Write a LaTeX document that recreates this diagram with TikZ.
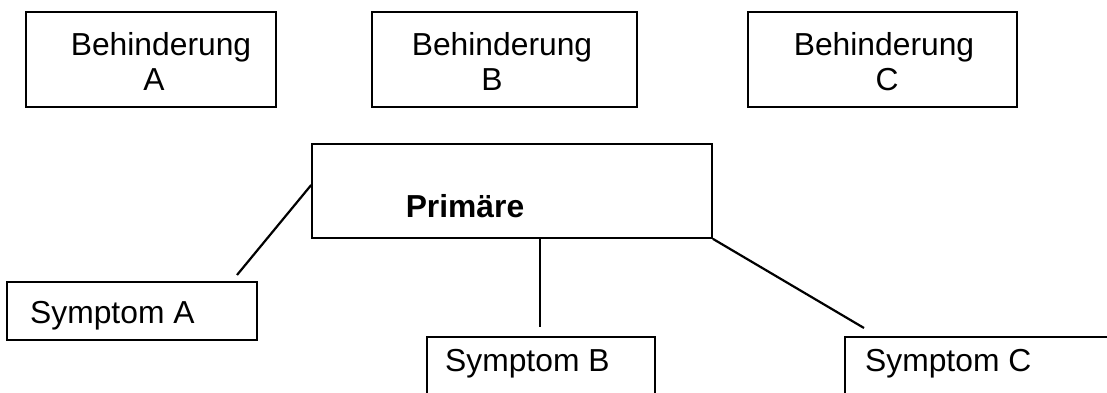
\documentclass[tikz,border=0pt]{standalone}
\usepackage{fontspec}
\setmainfont{Liberation Sans}
\begin{document}
\begin{tikzpicture}[x=1pt,y=-1pt,
  box/.style={draw, line width=1.6pt, rectangle, inner sep=0pt},
  txt/.style={inner sep=0pt, anchor=base, font=\fontsize{31.8}{35}\selectfont},
  txtl/.style={txt, anchor=base west},
  conn/.style={line width=2.2pt}]
\useasboundingbox (0,0) rectangle (1107,393);
\clip (0,0) rectangle (1107,393);
% top boxes
\node[box, minimum width=250pt, minimum height=95pt] (bA) at (151,59.5) {};
\node[box, minimum width=265pt, minimum height=95pt] (bB) at (504.5,59.5) {};
\node[box, minimum width=269pt, minimum height=95pt] (bC) at (882.5,59.5) {};
\node[txt] (tA1) at (161,56) {Behinderung};
\node[txt] (tA2) at (154,91) {A};
\node[txt] (tB1) at (502,56) {Behinderung};
\node[txt] (tB2) at (492,91) {B};
\node[txt] (tC1) at (884,56) {Behinderung};
\node[txt] (tC2) at (887,91) {C};
% central box
\node[box, minimum width=400pt, minimum height=94pt] (bP) at (512,191) {};
\node[txt, font=\fontsize{31.8}{35}\selectfont\bfseries] (tP) at (465,217) {Primäre};
% symptom boxes
\node[box, minimum width=250pt, minimum height=58pt] (sA) at (132,311) {};
\node[box, minimum width=228pt, minimum height=80pt] (sB) at (541,377) {};
\node[box, minimum width=275pt, minimum height=80pt] (sC) at (982.5,377) {};
\node[txtl] (tsA) at (30,323) {Symptom A};
\node[txtl] (tsB) at (445,371) {Symptom B};
\node[txtl] (tsC) at (865,371) {Symptom C};
% connectors
\coordinate (cA) at (237,275);
\coordinate (cB) at (540,327);
\coordinate (cC) at (864,328);
\draw[conn] ([yshift=6pt]bP.west) -- (cA);
\draw[conn, line width=1.6pt] (cB |- bP.south) -- (cB);
\draw[conn] (bP.south east) -- (cC);
\end{tikzpicture}
\end{document}
